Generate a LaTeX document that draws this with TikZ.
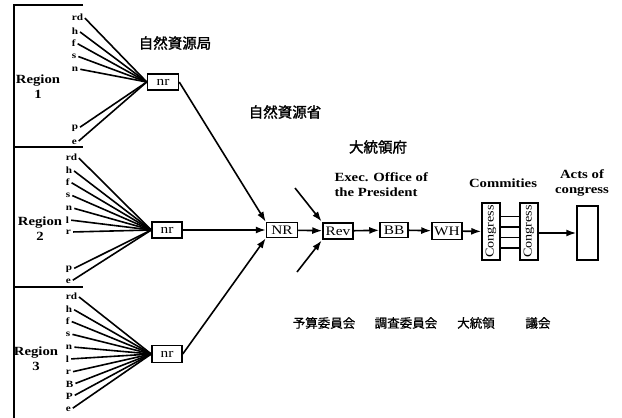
\documentclass[tikz,border=0pt]{standalone}
\usepackage{fontspec}
\setmainfont{Liberation Serif}[FakeStretch=1.18]
\newfontfamily\cjk{Noto Sans CJK JP}[FakeBold=1.5]
\newfontfamily\cjklight{Noto Sans CJK JP}[FakeBold=0.8]
\usetikzlibrary{arrows.meta,calc}
\begin{document}
\begin{tikzpicture}[x=1pt,y=-1pt,
  box/.style={draw,line width=1.5pt,inner sep=0pt,font=\fontsize{13}{13}\selectfont},
  lab/.style={font=\bfseries\fontsize{9.5}{9.5}\selectfont,inner sep=0.6pt,anchor=west},
  feed/.style={line width=1.6pt,shorten <=1.5pt},
  arr/.style={line width=1.6pt,-{Latex[length=10pt,width=7pt]}},
  reg/.style={font=\bfseries\fontsize{12.5}{15}\selectfont,align=center},
  head/.style={font=\cjk\fontsize{14.5}{14.5}\selectfont},
  foot/.style={font=\cjklight\fontsize{12.5}{12.5}\selectfont},
  eng/.style={font=\bfseries\fontsize{12.5}{15}\selectfont}]
\useasboundingbox (0,0) rectangle (622,418);
\fill[white] (0,0) rectangle (622,418);

% region brackets
\draw[line width=1.6pt] (83,5) -- (14,5) -- (14,418);
\draw[line width=1.6pt] (14,147) -- (83,147);
\draw[line width=1.6pt] (14,287) -- (83,287);

\node[reg] (r1) at (38,87) {Region\\1};
\node[reg] (r2) at (40,229) {Region\\2};
\node[reg] (r3) at (36,359) {Region\\3};

% boxes
\node[box,minimum width=31pt,minimum height=16pt] (nr1) at (163,82) {nr};
\node[box,minimum width=30pt,minimum height=16pt] (nr2) at (167,230) {nr};
\node[box,minimum width=30pt,minimum height=17pt] (nr3) at (167,354) {nr};
\node[box,minimum width=31pt,minimum height=15pt] (NR) at (282,230) {NR};
\node[box,minimum width=30pt,minimum height=16pt] (rev) at (338,231) {Rev};
\node[box,minimum width=28pt,minimum height=15pt] (BB) at (394,230) {BB};
\node[box,minimum width=30pt,minimum height=17pt] (WH) at (447,231) {WH};
\node[box,minimum width=18pt,minimum height=57pt,font=\fontsize{12}{12}\selectfont] (c1) at (491,231.5) {\rotatebox{90}{Congress}};
\node[box,minimum width=18pt,minimum height=57pt,font=\fontsize{12}{12}\selectfont] (c2) at (529,231.5) {\rotatebox{90}{Congress}};
\node[box,minimum width=21pt,minimum height=54pt] (acts) at (587.5,233) {};

% region 1 labels
\foreach \n/\t/\y in {a/rd/17,b/h/31,c/f/43,d/s/56,e/n/69,f/p/128,g/e/142}{
  \node[lab] (l1\n) at (71,\y) {\t};
  \draw[feed] (l1\n.east) -- (nr1.west);
}
% region 2 labels
\foreach \n/\t/\y in {a/rd/157,b/h/170,c/f/182,d/s/195,e/n/208,f/l/220,g/r/232,h/p/269,i/e/281}{
  \node[lab] (l2\n) at (65,\y) {\t};
  \draw[feed] (l2\n.east) -- (nr2.west);
}
% region 3 labels
\foreach \n/\t/\y in {a/rd/296,b/h/309,c/f/321,d/s/334,e/n/347,f/l/359,g/r/372,h/B/384,i/P/396,j/e/409}{
  \node[lab] (l3\n) at (65,\y) {\t};
  \draw[feed] (l3\n.east) -- (nr3.west);
}

% arrows
\draw[arr] (nr1.east) -- (NR.north west);
\draw[arr] (nr2.east) -- (NR.west);
\draw[arr] (nr3.east) -- (NR.south west);
\draw[arr] (NR) -- (rev);
\coordinate (inA) at (295,188);
\coordinate (inB) at (297,272);
\draw[arr,shorten >=1pt] (inA) -- (rev.north west);
\draw[arr,shorten >=1pt] (inB) -- (rev.south west);
\draw[arr] (rev) -- (BB);
\draw[arr] (BB) -- (WH);
\draw[arr] (WH) -- (c1);
\foreach \d in {15,4.5,-6,-16.5}
  \draw[line width=1.5pt] ([yshift=\d pt]c1.east) -- ([yshift=\d pt]c2.west);
\draw[arr] (c2.east |- acts.west) -- (acts.west);

% texts
\node[head] (t1) at (175,43) {自然資源局};
\node[head] (t2) at (285,112) {自然資源省};
\node[head] (t3) at (378,147) {大統領府};
\node[eng,align=left,anchor=west] (t4) at (331,185) {Exec. Office of\\the President};
\node[eng] (t5) at (503,183) {Commities};
\node[eng,align=center] (t6) at (582,183) {Acts of\\congress};

\node[foot] (f1) at (324,323) {予算委員会};
\node[foot] (f2) at (406,323) {調査委員会};
\node[foot] (f3) at (476,323) {大統領};
\node[foot] (f4) at (538,323) {議会};
\end{tikzpicture}
\end{document}
